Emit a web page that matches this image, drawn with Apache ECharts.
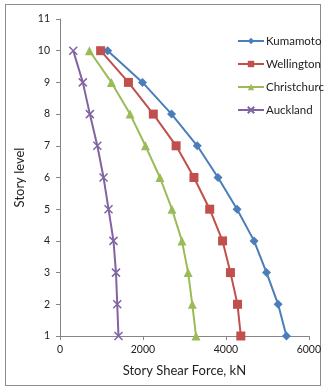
<!DOCTYPE html>
<html>
<head>
<meta charset="utf-8">
<script src="https://cdn.jsdelivr.net/npm/echarts@6/dist/echarts.min.js"></script>
<style>
  html, body { margin: 0; padding: 0; background: #fff; }
  #frame { position: absolute; left: 5px; top: 4px; width: 314px; height: 380px; border: 1px solid #8c8c8c; }
  #chart { width: 324px; height: 390px; }
</style>
</head>
<body>
<div id="frame"></div>
<div id="chart"></div>
<script>
// Story levels (y) and story shear forces in kN (x) for each city
const levels = [1, 2, 3, 4, 5, 6, 7, 8, 9, 10];
const kumamoto = [5460, 5260, 4980, 4680, 4270, 3810, 3310, 2690, 1990, 1150];
const wellington = [4360, 4280, 4110, 3920, 3610, 3230, 2800, 2250, 1650, 980];
const christchurch = [3280, 3190, 3090, 2940, 2700, 2410, 2060, 1690, 1240, 710];
const auckland = [1410, 1380, 1350, 1290, 1170, 1050, 900, 720, 550, 320];

const seriesNames = ['Kumamoto', 'Wellington', 'Christchurch', 'Auckland'];
const seriesColors = ['#4a7ebb', '#c0504d', '#9bbb59', '#8064a2'];
const seriesSymbols = ['diamond', 'rect', 'triangle', 'path://M0,0L10,10M10,0L0,10'];
const seriesValues = [kumamoto, wellington, christchurch, auckland];

const font = 'Lato, "Open Sans", sans-serif';

const chart = echarts.init(document.getElementById('chart'));
chart.setOption({
  animation: false,
  grid: { left: 60, right: 15, top: 19, bottom: 54 },
  legend: {
    orient: 'vertical',
    left: 232,
    top: 30,
    itemWidth: 26,
    itemHeight: 8,
    itemGap: 11,
    textStyle: { fontFamily: font, fontSize: 11.5, color: '#222', padding: [0, 0, 0, -3] },
    data: seriesNames
  },
  xAxis: {
    type: 'value',
    min: 0, max: 6000, interval: 2000,
    name: 'Story Shear Force, kN',
    nameLocation: 'middle',
    nameGap: 28,
    nameTextStyle: { fontFamily: font, fontSize: 13, color: '#222' },
    axisLine: { show: true, lineStyle: { color: '#868686' } },
    axisTick: { show: true, length: 4, lineStyle: { color: '#868686' } },
    axisLabel: { fontFamily: font, fontSize: 10.5, color: '#222', margin: 8, formatter: v => String(v) },
    splitLine: { show: false }
  },
  yAxis: {
    type: 'value',
    min: 1, max: 11, interval: 1,
    name: 'Story level',
    nameLocation: 'middle',
    nameRotate: 90,
    nameGap: 34,
    nameTextStyle: { fontFamily: font, fontSize: 13, color: '#222' },
    axisLine: { show: true, lineStyle: { color: '#868686' } },
    axisTick: { show: true, length: 4, lineStyle: { color: '#868686' } },
    axisLabel: { fontFamily: font, fontSize: 10.5, color: '#222', margin: 10 },
    splitLine: { show: false }
  },
  series: seriesNames.map((name, i) => ({
    name: name,
    type: 'line',
    data: levels.map((lv, j) => [seriesValues[i][j], lv]),
    symbol: seriesSymbols[i],
    symbolSize: i === 3 ? 8 : 9,
    showAllSymbol: true,
    lineStyle: { color: seriesColors[i], width: 2 },
    itemStyle: i === 3
      ? { color: seriesColors[i], borderColor: seriesColors[i], borderWidth: 1.5 }
      : { color: seriesColors[i] }
  }))
});
</script>
</body>
</html>
